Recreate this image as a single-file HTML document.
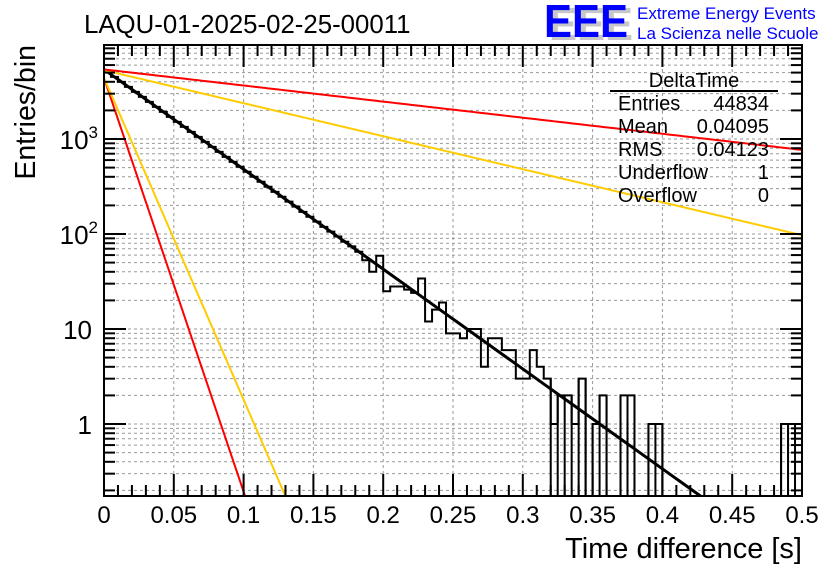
<!DOCTYPE html>
<html><head><meta charset="utf-8"><style>
html,body{margin:0;padding:0;background:#fff;}
svg{display:block;font-family:"Liberation Sans",sans-serif;}
</style></head><body>
<svg id="c" width="836" height="572" xmlns="http://www.w3.org/2000/svg">
<text x="84" y="33" font-size="25.8">LAQU-01-2025-02-25-00011</text>
<g>
<text x="549" y="40" font-size="46" fill="#c8c8c8" font-weight="bold" textLength="84" lengthAdjust="spacingAndGlyphs">EEE</text>
<text x="544" y="37" font-size="46" fill="#0000ff" font-weight="bold" textLength="84" lengthAdjust="spacingAndGlyphs">EEE</text>
<text x="637" y="19" font-size="17" fill="#0000ff">Extreme Energy Events</text>
<text x="637" y="39" font-size="17" fill="#0000ff">La Scienza nelle Scuole</text>
</g>
<text transform="translate(35,45) rotate(-90)" text-anchor="end" font-size="28.5">Entries/bin</text>
<text x="802" y="558" text-anchor="end" font-size="29">Time difference [s]</text>
<g id="grid"></g>
<g id="marks"></g>
<g id="axes"></g>
<g font-size="20">
<text x="694" y="87" text-anchor="middle">DeltaTime</text>
<line x1="610" y1="91" x2="778" y2="91" stroke="#000" stroke-width="2"/>
<text x="618" y="110">Entries</text><text x="769" y="110" text-anchor="end">44834</text>
<text x="618" y="133">Mean</text><text x="769" y="133" text-anchor="end">0.04095</text>
<text x="618" y="156">RMS</text><text x="769" y="156" text-anchor="end">0.04123</text>
<text x="618" y="179">Underflow</text><text x="769" y="179" text-anchor="end">1</text>
<text x="618" y="202">Overflow</text><text x="769" y="202" text-anchor="end">0</text>
</g>
</svg>
<script>
const binWidth = 0.005;
const counts = [5083,4503,3990,3535,3132,2775,2459,2178,1930,1710,1515,1342,1189,1054,934,827,733,649,575,510,452,400,355,314,278,247,219,194,171,152,135,119,106,94,83,74,65,53,40,59,25,28,28,26,24,34,12,16,19,9,9,8,10,10,4,8,8,6,6,3,3,6,4,3,1,2,2,1,3,0,1,2,0,0,2,2,0,0,1,1,0,0,0,0,0,0,0,0,0,0,0,0,0,0,0,0,0,1,1,1];
const fitNames = ['fit-black','fit-red-steep','fit-orange-steep','fit-orange-shallow','fit-red-shallow'];
const fitAmp = [5400,4400,4400,5300,5400];
const fitRate = [24.2,100.3,78,8.0,3.9];
const fitColor = ['#000','#ff0000','#ffcc00','#ffcc00','#ff0000'];
const fitWidth = [3,2,2,2,2];
const xTicks = [0,0.05,0.1,0.15,0.2,0.25,0.3,0.35,0.4,0.45,0.5];
const xTickLabels = ['0','0.05','0.1','0.15','0.2','0.25','0.3','0.35','0.4','0.45','0.5'];
const yDecades = [1,10,100,1000];
const yDecadeLabels = ['1','10','10²','10³'];

const X0=104,X1=802,Y0=496,Y1=45,XMIN=0,XMAX=0.5;
const DEC=95, Y_ONE=424;
const xs=v=>X0+(v-XMIN)/(XMAX-XMIN)*(X1-X0);
const ys=v=>Y_ONE-Math.log10(v)*DEC;
const NS='http://www.w3.org/2000/svg';
function mk(p,t,a){const e=document.createElementNS(NS,t);for(const k in a)e.setAttribute(k,a[k]);p.appendChild(e);return e;}
const grid=document.getElementById('grid'),marks=document.getElementById('marks'),axes=document.getElementById('axes');
const ymin=Math.pow(10,(Y_ONE-Y0)/DEC), ymax=Math.pow(10,(Y_ONE-Y1)/DEC);
xTicks.forEach((t,i)=>{if(i>0&&i<xTicks.length-1){const l=mk(grid,'line',{x1:xs(t),x2:xs(t),y1:Y1,y2:Y0,stroke:'#999','stroke-dasharray':'3,3','stroke-width':1});

}});
for(let d=0.1;d<=10000;d*=10){for(let m=1;m<10;m++){const v=Math.round(d*m*100)/100;if(v<ymin||v>ymax)continue;const y=ys(v);
const l=mk(grid,'line',{x1:X0,x2:X1,y1:y,y2:y,stroke:'#999','stroke-dasharray':'3,3','stroke-width':1});


const tl=m===1?22:11;
mk(axes,'line',{x1:X0,x2:X0+tl,y1:y,y2:y,stroke:'#000','stroke-width':2});
mk(axes,'line',{x1:X1-tl,x2:X1,y1:y,y2:y,stroke:'#000','stroke-width':2});}}
const yc=v=>v<=0?Y0:Math.max(Y1,Math.min(Y0,ys(v)));
let d='M'+X0+','+Y0;
counts.forEach((c,i)=>{const xa=xs(i*binWidth),xb=xs((i+1)*binWidth);const y=yc(c);d+=' L'+xa+','+y+' L'+xb+','+y;});
d+=' L'+X1+','+Y0;
const h=mk(marks,'path',{d:d,fill:'none',stroke:'#000','stroke-width':2});


counts.forEach((c,i)=>{const nb=i+1<counts.length?counts[i+1]:0;if(i+1<counts.length&&(c<=2||nb<=2)&&(c>0||nb>0)){const x=xs((i+1)*binWidth);mk(marks,'line',{x1:x,x2:x,y1:Math.min(yc(c),yc(nb)),y2:Y0,stroke:'#000','stroke-width':2});}});
mk(document.getElementById('c'),'clipPath',{id:'pc'}).appendChild(document.createElementNS(NS,'rect'));
const cr=document.querySelector('#pc rect');cr.setAttribute('x',X0);cr.setAttribute('y',Y1);cr.setAttribute('width',X1-X0);cr.setAttribute('height',Y0-Y1);
fitAmp.forEach((A,k)=>{let pts=[];for(let j=0;j<=200;j++){const t=XMIN+(XMAX-XMIN)*j/200;const v=A*Math.exp(-fitRate[k]*t);pts.push(xs(t)+','+ys(v));if(v<ymin*0.9)break;}
const p=mk(marks,'polyline',{points:pts.join(' '),fill:'none',stroke:fitColor[k],'stroke-width':fitWidth[k],'clip-path':'url(#pc)'});

});
mk(axes,'rect',{x:X0,y:Y1,width:X1-X0,height:Y0-Y1,fill:'none',stroke:'#000','stroke-width':2});
for(let j=0;j<=50;j++){const x=xs(j*0.01);const tl=j%5===0?22:11;
mk(axes,'line',{x1:x,x2:x,y1:Y0,y2:Y0-tl,stroke:'#000','stroke-width':2});
mk(axes,'line',{x1:x,x2:x,y1:Y1,y2:Y1+tl,stroke:'#000','stroke-width':2});}
xTicks.forEach((t,i)=>{const e=mk(axes,'text',{x:xs(t),y:523,'text-anchor':'middle','font-size':24});e.textContent=xTickLabels[i];

});
yDecades.forEach((v,i)=>{const e=mk(axes,'text',{x:92,y:ys(v)+10,'text-anchor':'end','font-size':26});
const lab=yDecadeLabels[i];
if(lab.length>2){e.textContent='10';const s=mk(e,'tspan',{dy:-11,'font-size':17});s.textContent=lab==='10²'?'2':'3';e.setAttribute('x',98);}else e.textContent=lab;

});
</script>
</body></html>
